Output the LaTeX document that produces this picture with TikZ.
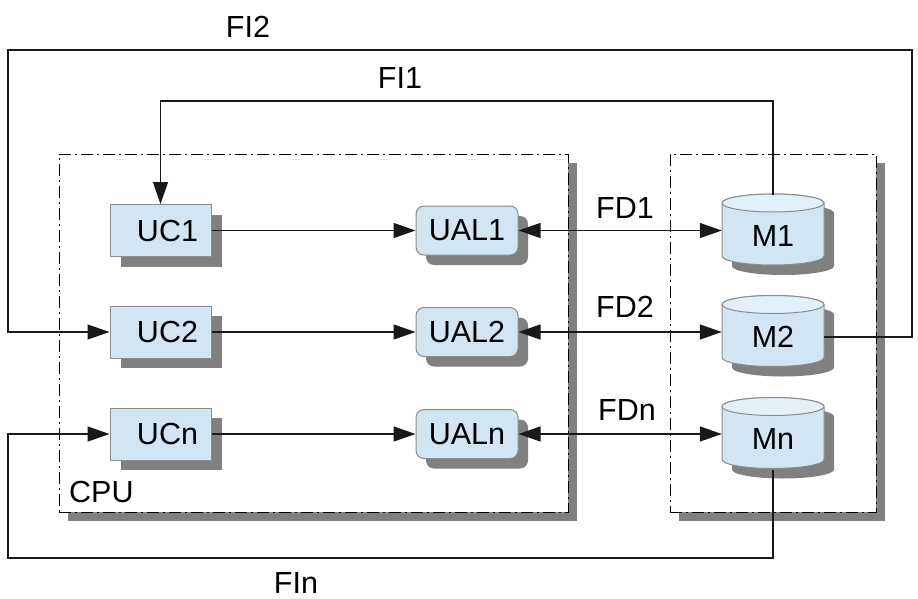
\documentclass[tikz,border=0pt]{standalone}
\usepackage{fontspec}
\setmainfont{Liberation Sans}
\usetikzlibrary{arrows.meta,shadows}
\definecolor{boxfill}{RGB}{209,229,243}
\definecolor{topfill}{RGB}{226,240,250}
\definecolor{shadowgray}{RGB}{128,128,128}
\definecolor{edgegray}{RGB}{140,140,140}
\definecolor{linecol}{RGB}{25,25,25}
\newcommand{\cylshape}[2]{%
  ({#1-51},{#2-27.5}) -- ({#1-51},{#2+25.5})
  arc[start angle=180,end angle=360,x radius=51pt,y radius=9pt]
  -- ({#1+51},{#2-27.5})
  arc[start angle=0,end angle=180,x radius=51pt,y radius=9pt] -- cycle}
\newcommand{\drawcyl}[2]{%
  \begin{scope}[shift={(10,10)}]
    \fill[shadowgray] \cylshape{#1}{#2};
  \end{scope}
  \filldraw[fill=boxfill,draw=edgegray,line width=1pt] \cylshape{#1}{#2};
  \filldraw[fill=topfill,draw=edgegray,line width=1pt]
    (#1,{#2-27.5}) ellipse[x radius=51pt,y radius=9pt];}
\begin{document}
\begin{tikzpicture}[x=1pt,y=-1pt,
  every node/.style={font=\fontsize{30.5}{36}\selectfont},
  ucbox/.style={draw=edgegray,line width=1pt,fill=boxfill,
    minimum width=101pt,minimum height=52pt,inner sep=0pt,
    drop shadow={shadow xshift=11pt,shadow yshift=-10pt,fill=shadowgray,opacity=1}},
  ualbox/.style={draw=edgegray,line width=1pt,fill=boxfill,rounded corners=8pt,
    minimum width=102pt,minimum height=49pt,inner sep=0pt,
    drop shadow={shadow xshift=10pt,shadow yshift=-10pt,fill=shadowgray,opacity=1}},
  mnode/.style={minimum width=102pt,minimum height=71pt,inner sep=0pt,
    text height=31pt,text depth=0pt},
  groupbox/.style={draw=black,fill=white,line width=1pt,
    dash pattern=on 12pt off 4pt on 2pt off 4pt,inner sep=0pt,
    drop shadow={shadow xshift=9pt,shadow yshift=-9pt,fill=shadowgray,opacity=1}},
  conn/.style={draw=linecol,line width=1.3pt},
  arr/.style={-{Triangle[length=22pt,width=15pt]}},
  darr/.style={{Triangle[length=22pt,width=15pt]}-{Triangle[length=22pt,width=15pt]}},
  lbl/.style={inner sep=0pt}
]
\useasboundingbox (0,0) rectangle (918,599);

% group boxes
\node[groupbox,minimum width=509pt,minimum height=358pt] (cpu) at (313.5,333) {};
\node[groupbox,minimum width=206pt,minimum height=358pt] (mem) at (773,333) {};
\node[lbl,anchor=west] (cpulbl) at (69,492) {CPU};

% UC boxes
\node[ucbox] (UC1) at (160.5,230.5) {\hspace*{14pt}UC1};
\node[ucbox] (UC2) at (160.5,332) {\hspace*{14pt}UC2};
\node[ucbox] (UCn) at (160.5,434) {\hspace*{14pt}UCn};

% UAL boxes
\node[ualbox] (UAL1) at (467,230.5) {UAL1};
\node[ualbox] (UAL2) at (467,332) {UAL2};
\node[ualbox] (UALn) at (467,434) {UALn};

% memories
\drawcyl{773}{230.5}
\drawcyl{773}{332}
\drawcyl{773}{434}
\node[mnode] (M1) at (773,230.5) {M1};
\node[mnode] (M2) at (773,332) {M2};
\node[mnode] (Mn) at (773,434) {Mn};

% data paths
\draw[conn,arr] (UC1.east) -- (UAL1.west);
\draw[conn,arr] (UC2.east) -- (UAL2.west);
\draw[conn,arr] (UCn.east) -- (UALn.west);
\draw[conn,darr] (UAL1.east) -- (M1.west);
\draw[conn,darr] (UAL2.east) -- (M2.west);
\draw[conn,darr] (UALn.east) -- (Mn.west);
\node[lbl] (fd1) at (625,208) {FD1};
\node[lbl] (fd2) at (625,307) {FD2};
\node[lbl] (fdn) at (627,410) {FDn};

% instruction paths
\coordinate (fi1a) at (773,101);
\draw[conn,arr] (M1.north) -- (fi1a) -| (UC1.north);
\coordinate (fi2a) at (912,50);
\coordinate (fi2b) at (8,50);
\draw[conn,arr] ([yshift=-5pt]M2.east) -| (fi2a) -- (fi2b) |- (UC2.west);
\coordinate (fina) at (8,558);
\draw[conn,arr] (Mn.south) |- (fina) |- (UCn.west);
\node[lbl] (fi2) at (248,27) {FI2};
\node[lbl] (fi1) at (400,78) {FI1};
\node[lbl] (fin) at (296,583) {FIn};
\end{tikzpicture}
\end{document}
